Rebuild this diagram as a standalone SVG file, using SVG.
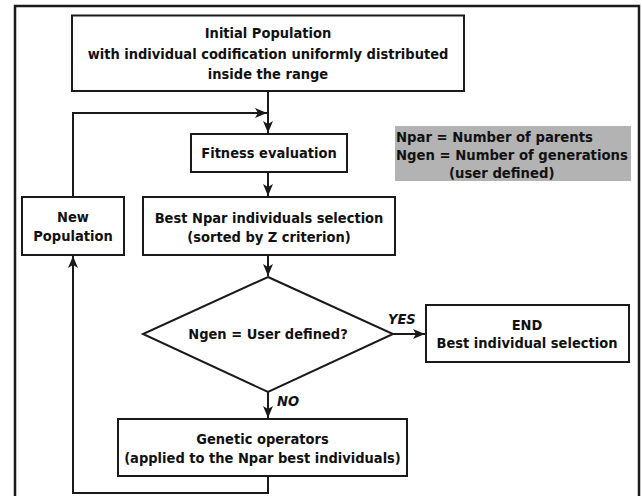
<svg xmlns="http://www.w3.org/2000/svg" width="642" height="496" viewBox="0 0 642 496">
<style>
.box{fill:#fff;stroke:#1a1a1a;stroke-width:2}
.t{font-family:"DejaVu Sans Condensed","DejaVu Sans",sans-serif;font-stretch:condensed;font-weight:bold;font-size:14.5px;fill:#111;text-anchor:middle}
.l{text-anchor:start;font-size:14.7px}
.i{font-style:italic;text-anchor:start}
.c{fill:none;stroke:#1a1a1a;stroke-width:2}
</style>
<defs>
<marker id="ah" viewBox="0 0 12 10" refX="12" refY="5" markerWidth="12" markerHeight="10" markerUnits="userSpaceOnUse" orient="auto">
<path d="M0,0 L12,5 L0,10 L3,5 Z" fill="#1a1a1a"/>
</marker>
</defs>
<rect x="15" y="6" width="624" height="500" fill="#fff" stroke="#1a1a1a" stroke-width="2.5"/>
<g id="connectors">
<path class="c" d="M268,91 V133" marker-end="url(#ah)"/>
<path class="c" d="M73,197 V113 H267" marker-end="url(#ah)"/>
<path class="c" d="M268,172 V196" marker-end="url(#ah)"/>
<path class="c" d="M268,255 V276" marker-end="url(#ah)"/>
<path class="c" d="M393,334 H425" marker-end="url(#ah)"/>
<path class="c" d="M268,392 V418" marker-end="url(#ah)"/>
<path class="c" d="M268,476 V493 H73 V256" marker-end="url(#ah)"/>
<text class="t i" x="388" y="324">YES</text>
<text class="t i" x="277" y="406">NO</text>
</g>
<g id="initial">
<rect class="box" x="72" y="15.5" width="392" height="75.5"/>
<text class="t" x="268" y="38">Initial Population</text>
<text class="t" x="268" y="59">with individual codification uniformly distributed</text>
<text class="t" x="268" y="79">inside the range</text>
</g>
<g id="fitness">
<rect class="box" x="191" y="134" width="156" height="38"/>
<text class="t" x="269" y="158">Fitness evaluation</text>
</g>
<g id="best">
<rect class="box" x="143" y="197" width="252" height="58"/>
<text class="t" x="269" y="223">Best Npar individuals selection</text>
<text class="t" x="269" y="242">(sorted by Z criterion)</text>
</g>
<g id="newpop">
<rect class="box" x="22" y="197" width="102" height="58"/>
<text class="t" x="73" y="222">New</text>
<text class="t" x="73" y="241">Population</text>
</g>
<g id="decision">
<polygon class="box" points="268,277 393,334 268,392 143,334"/>
<text class="t" x="268" y="339">Ngen = User defined?</text>
</g>
<g id="end">
<rect class="box" x="426" y="305" width="203" height="57"/>
<text class="t" x="527" y="330">END</text>
<text class="t" x="527" y="348">Best individual selection</text>
</g>
<g id="genetic">
<rect class="box" x="118" y="419" width="289" height="57"/>
<text class="t" x="262.5" y="444">Genetic operators</text>
<text class="t" x="262.5" y="463">(applied to the Npar best individuals)</text>
</g>
<g id="legend">
<rect x="395" y="126" width="236" height="55" fill="#b3b3b3"/>
<text class="t l" x="396" y="142">Npar = Number of parents</text>
<text class="t l" x="396" y="160">Ngen = Number of generations</text>
<text class="t l" x="449" y="178">(user defined)</text>
</g>
</svg>
